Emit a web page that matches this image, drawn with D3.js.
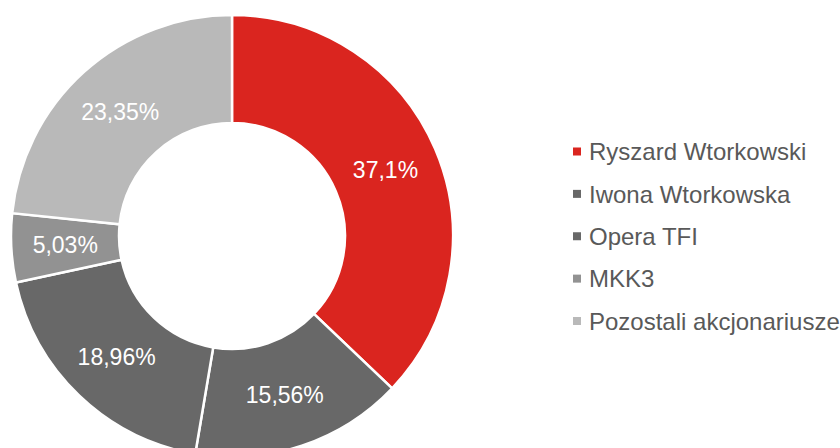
<!DOCTYPE html>
<html>
<head>
<meta charset="utf-8">
<script src="https://cdn.jsdelivr.net/npm/d3@7"></script>
<style>
  body { margin: 0; background: #fff; }
  svg { font-family: "Liberation Sans", Arial, sans-serif; overflow: hidden; }
</style>
</head>
<body>
<div id="container"></div>
<script>
// data
var names = ["Ryszard Wtorkowski", "Iwona Wtorkowska", "Opera TFI", "MKK3", "Pozostali akcjonariusze"];
var values = [37.1, 15.56, 18.96, 5.03, 23.35];
var labels = ["37,1%", "15,56%", "18,96%", "5,03%", "23,35%"];
var colors = ["#DA251F", "#686868", "#686868", "#929292", "#B9B9B9"];

var width = 840;
var height = 448;
var cx = 232, cy = 236;
var outerR = 221, innerR = 113;

const svg = d3.select("#container")
              .append("svg")
              .attr("width", width)
              .attr("height", height);

var pie = d3.pie().sort(null).value(d => d);
var arc = d3.arc().innerRadius(innerR).outerRadius(outerR);

var g = svg.append("g")
           .attr("transform", "translate(" + cx + "," + cy + ")");

var slices = g.selectAll("g.slice")
              .data(pie(values))
              .enter()
              .append("g")
              .attr("class", "slice");

slices.append("path")
      .attr("d", arc)
      .attr("fill", (d, i) => colors[i])
      .attr("stroke", "#fff")
      .attr("stroke-width", 2.5);

slices.append("text")
      .attr("transform", d => "translate(" + arc.centroid(d) + ")")
      .attr("text-anchor", "middle")
      .attr("dy", "0.36em")
      .attr("fill", "#fff")
      .style("font-size", "23px")
      .text((d, i) => labels[i]);

// legend
var legendY = d3.scalePoint()
                .domain(names)
                .range([151.5, 321]);

var legend = svg.selectAll("g.legend")
                .data(names)
                .enter()
                .append("g")
                .attr("class", "legend")
                .attr("transform", d => "translate(573," + legendY(d) + ")");

legend.append("rect")
      .attr("x", 0)
      .attr("y", -4)
      .attr("width", 8)
      .attr("height", 8)
      .attr("fill", (d, i) => colors[i]);

legend.append("text")
      .attr("x", 16)
      .attr("dy", "0.36em")
      .attr("fill", "#595959")
      .style("font-size", "24px")
      .text(d => d);
</script>
</body>
</html>
